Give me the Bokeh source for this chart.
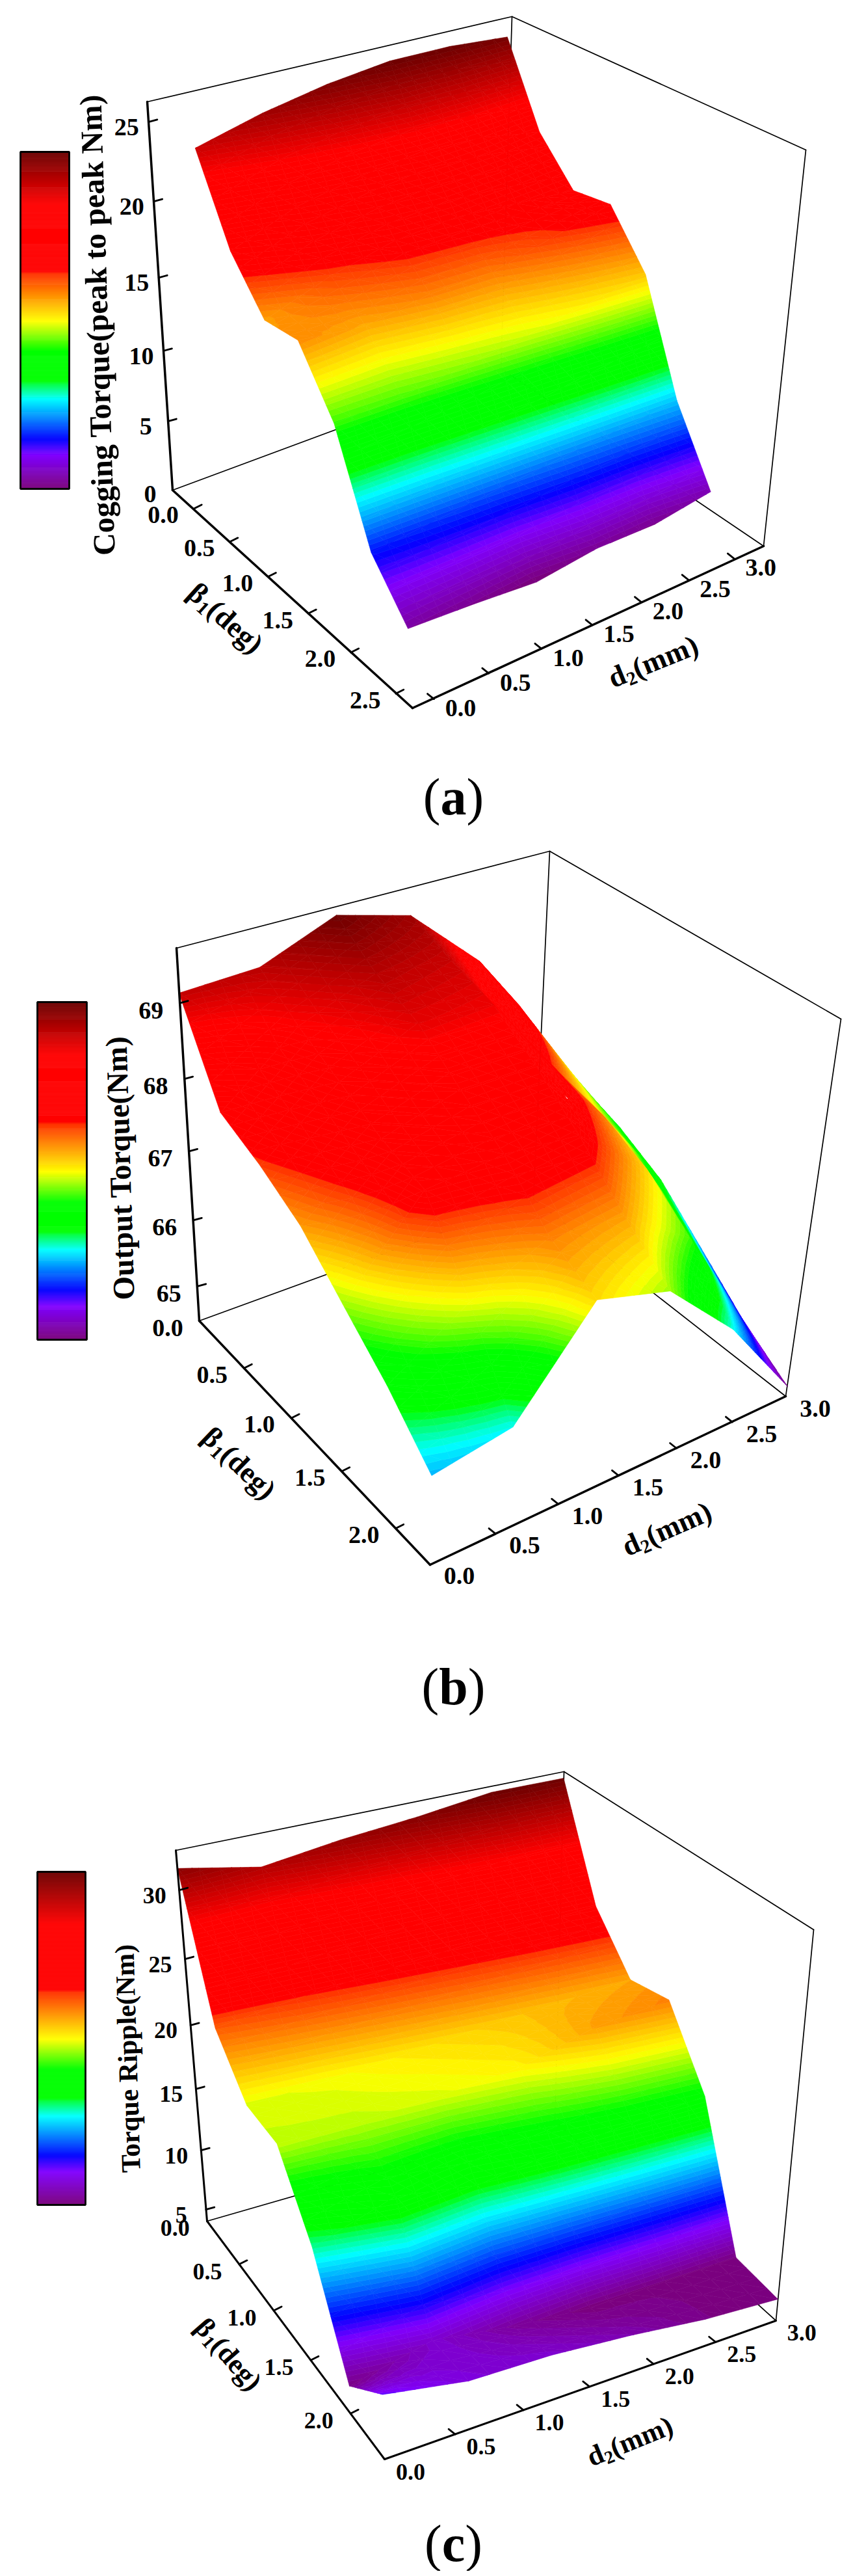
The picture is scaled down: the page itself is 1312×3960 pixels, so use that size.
import math
import numpy as np
from bokeh.plotting import figure
from bokeh.layouts import column
from bokeh.embed import file_html
from bokeh.resources import INLINE
from bokeh.core.properties import value
from bokeh.models import ColumnDataSource

# ---------- data ----------
D2_GRID = [0.0, 0.6, 1.2, 1.8, 2.4, 3.0]

BETA_A = [0.0, 0.4, 0.8, 1.2, 1.6, 2.0, 2.4]
COGGING = [
    [24.0, 25.1, 25.9, 26.4, 26.4, 26.1],
    [18.9, 20.5, 21.3, 21.8, 21.6, 20.9],
    [16.0, 17.5, 18.5, 18.8, 18.5, 18.2],
    [16.3, 15.8, 16.5, 16.6, 17.6, 18.6],
    [12.7, 12.9, 13.4, 14.0, 14.7, 15.3],
    [6.2, 6.6, 7.0, 7.4, 7.8, 8.2],
    [3.2, 2.9, 2.5, 3.0, 2.9, 3.5],
]
BETA_B = [0.0, 0.38, 0.77, 1.15, 1.53, 1.92, 2.3]
OUTPUT = [
    [69.13, 69.18, 69.59, 69.33, 68.44, 67.08],
    [67.98, 68.8, 69.2, 69.1, 68.2, 66.75],
    [67.74, 68.5, 68.95, 68.9, 67.65, 66.52],
    [67.42, 68.2, 68.5, 68.5, 67.5, 66.19],
    [66.89, 68.0, 68.1, 68.0, 67.2, 65.63],
    [66.36, 67.05, 67.5, 67.4, 66.7, 65.05],
    [65.73, 65.91, 67.19, 66.89, 65.92, 64.61],
]
BETA_C = [0.0, 0.4, 0.8, 1.2, 1.6, 2.0, 2.4]
RIPPLE = [
    [31.54, 30.41, 31.16, 31.67, 32.36, 32.31],
    [22.11, 22.8, 23.3, 23.7, 24.1, 24.37],
    [18.76, 19.0, 19.5, 20.0, 20.4, 20.73],
    [18.53, 18.5, 18.8, 19.3, 20.8, 21.38],
    [13.66, 15.6, 14.6, 15.4, 15.9, 16.32],
    [6.19, 7.6, 6.6, 6.0, 6.1, 6.11],
    [9.0, 7.8, 7.6, 7.0, 6.2, 5.77],
]
BETA_TICKS_A = [0.0, 0.5, 1.0, 1.5, 2.0, 2.5]
BETA_TICKS_BC = [0.0, 0.5, 1.0, 1.5, 2.0]
D2_TICKS = [0.0, 0.5, 1.0, 1.5, 2.0, 2.5, 3.0]
Z_TICKS_A = [0, 5, 10, 15, 20, 25]
Z_TICKS_B = [65, 66, 67, 68, 69]
Z_TICKS_C = [5, 10, 15, 20, 25, 30]

# ---------- colour map (fraction of range, colour) ----------
CMAP_T = [0.0, 0.10, 0.148, 0.267, 0.312, 0.32, 0.408, 0.498, 0.64, 0.645, 0.844, 1.0]
CMAP_C = ["#7a0078", "#8000ff", "#0000ff", "#00ffff", "#00ff40", "#00ff00", "#00ff00",
          "#ffff00", "#ff3000", "#ff0000", "#ff0000", "#6b0000"]

def rgb(h):
    return [int(h[i:i + 2], 16) for i in (1, 3, 5)]
_cm = np.array([rgb(c) for c in CMAP_C], float)
BANDS = 100
SUB = 4
BASE_FIX = 0.25   # Bokeh places an "alphabetic" text this fraction of its size below the given y
def colour(t):
    t = min(max(t, 0.0), 1.0)
    r = [np.interp(t, CMAP_T, _cm[:, k]) for k in range(3)]
    return "#%02x%02x%02x" % tuple(int(round(v)) for v in r)

FONT = value("Liberation Serif")
KEYS = {"A": (0, 0, 0), "Ap": (0, 0, 1), "B": (1, 0, 0), "C": (1, 1, 0), "Cp": (1, 1, 1), "D": (0, 1, 0), "Dp": (0, 1, 1)}

def camera(corners):
    rows = []
    for k, (sx, sy) in corners.items():
        X, Y, Z = KEYS[k]
        rows.append([X, Y, Z, 1, 0, 0, 0, 0, -sx * X, -sx * Y, -sx * Z, -sx])
        rows.append([0, 0, 0, 0, X, Y, Z, 1, -sy * X, -sy * Y, -sy * Z, -sy])
    return np.linalg.svd(np.array(rows, float))[2][-1].reshape(3, 4)

def clip(poly, level, keep_above):
    out = []
    n = len(poly)
    for k in range(n):
        a, b = poly[k], poly[(k + 1) % n]
        ina = a[2] >= level if keep_above else a[2] <= level
        inb = b[2] >= level if keep_above else b[2] <= level
        if ina:
            out.append(a)
        if ina != inb:
            s = (level - a[2]) / (b[2] - a[2])
            out.append((a[0] + s * (b[0] - a[0]), a[1] + s * (b[1] - a[1]), level))
    return out

def panel(cfg):
    top, bottom = cfg["yspan"]
    p = figure(width=1304, height=bottom - top, x_range=(0, 1304), y_range=(bottom, top),
               x_axis_type=None, y_axis_type=None,
               output_backend="svg", toolbar_location=None,
               min_border=0, min_border_left=0, min_border_right=0, min_border_top=0, min_border_bottom=0)
    p.grid.visible = False
    p.outline_line_color = None
    M = camera(cfg["corners"])
    b0, b1 = cfg["brange"]; d0, d1 = cfg["drange"]; z0, z1 = cfg["zrange"]

    def proj(b, d, z):
        h = M @ np.array([(b - b0) / (b1 - b0), (d - d0) / (d1 - d0), (z - z0) / (z1 - z0), 1.0])
        return h[0] / h[2], h[1] / h[2]

    c = cfg["corners"]
    thin = [("A", "D"), ("D", "C"), ("D", "Dp"), ("Ap", "Dp"), ("Dp", "Cp"), ("Cp", "C")]
    p.multi_line([[c[a][0], c[b][0]] for a, b in thin], [[c[a][1], c[b][1]] for a, b in thin],
                 line_color="black", line_width=1.7, line_cap="round")

    # surface: bilinear in each cell of the table, drawn back to front in colour bands
    betas, grid = cfg["beta"], np.array(cfg["z"], float)
    clo, chi = cfg["clim"]
    xs, ys, cols = [], [], []
    for i in range(len(betas) - 1):
        for si in range(SUB):
            for j in range(len(D2_GRID) - 2, -1, -1):
                for sj in range(SUB - 1, -1, -1):
                    def pt(u, v):
                        z = ((1 - u) * (1 - v) * grid[i, j] + u * (1 - v) * grid[i + 1, j]
                             + (1 - u) * v * grid[i, j + 1] + u * v * grid[i + 1, j + 1])
                        b = betas[i] + u * (betas[i + 1] - betas[i])
                        d = D2_GRID[j] + v * (D2_GRID[j + 1] - D2_GRID[j])
                        x, y = proj(b, d, z)
                        return (x, y, z)
                    ua, ub = si / SUB, (si + 1) / SUB
                    va, vb = sj / SUB, (sj + 1) / SUB
                    q = [pt(ua, va), pt(ub, va), pt(ub, vb), pt(ua, vb)]
                    for tri in ([q[0], q[1], q[2]], [q[0], q[2], q[3]]):
                        zs = [a[2] for a in tri]
                        mlo = max(0, min(BANDS - 1, int((min(zs) - clo) / (chi - clo) * BANDS)))
                        mhi = max(0, min(BANDS - 1, int((max(zs) - clo) / (chi - clo) * BANDS)))
                        for m in range(mlo, mhi + 1):
                            poly = tri
                            if m > 0:
                                poly = clip(poly, clo + (chi - clo) * m / BANDS, True)
                            if poly and m < BANDS - 1:
                                poly = clip(poly, clo + (chi - clo) * (m + 1) / BANDS, False)
                            if len(poly) >= 3:
                                xs.append([a[0] for a in poly]); ys.append([a[1] for a in poly])
                                cols.append(colour((m + 0.5) / BANDS))
    p.patches("x", "y", source=ColumnDataSource(dict(x=xs, y=ys, c=cols)), fill_color="c", line_color="c", line_width=0.6)

    for a, b in [("A", "Ap"), ("A", "B"), ("B", "C")]:
        p.line([c[a][0], c[b][0]], [c[a][1], c[b][1]], line_color="black", line_width=cfg["thick"], line_cap="round")

    fs = f'{cfg["tick_font"]}px'
    def ticks(vals, fn, start, end, dt, dl, fmt):
        lx, ly, lt = [], [], []
        for v in vals:
            x, y = fn(v)
            if abs(v - start) > 1e-6 and abs(v - end) > 1e-6:
                p.line([x, x + dt[0]], [y, y + dt[1]], line_color="black", line_width=2.8, line_cap="round")
            lx.append(x + dl[0]); ly.append(y + dl[1]); lt.append(fmt % v)
        p.text(lx, ly, text=lt, text_font=FONT, text_font_style="bold", text_font_size=fs,
               text_align="center", text_baseline="middle", text_color="black")
    ticks(cfg["ztick"], lambda v: proj(b0, d0, v), z0, z1, (13, -3.5), cfg["zlab"], "%d")
    ticks(cfg["btick"], lambda v: proj(v, d0, z0), b0, b1, (12, -6), cfg["blab"], "%.1f")
    ticks(cfg["dtick"], lambda v: proj(b1, v, z0), d0, d1, (-10, -8), cfg["dlab"], "%.1f")

    tx, ty = cfg["ztitle_at"]
    p.text([tx], [ty], text=[cfg["ztitle"]], angle=math.pi / 2 + 0.03, text_font=FONT, text_font_style="bold",
           text_font_size=f'{cfg["ztitle_font"]}px', text_align="center", text_baseline="middle", text_color="black")

    def composed(start, deg, parts, size):
        th = math.radians(deg)
        ux, uy = math.cos(th), -math.sin(th)
        vx, vy = math.sin(th), math.cos(th)
        adv = 0.0
        for txt, wid, scale, drop in parts:
            dr = (drop - BASE_FIX * scale) * size
            x = start[0] + ux * adv + vx * dr
            y = start[1] + uy * adv + vy * dr
            p.text([x], [y], text=[txt], angle=th, text_font=FONT, text_font_style="bold",
                   text_font_size=f"{size * scale:.1f}px", text_align="left", text_baseline="alphabetic", text_color="black")
            adv += wid * size
    composed(cfg["beta_at"], cfg["beta_deg"], [("β", 0.56, 1, 0), ("1", 0.33, 0.65, 0.18), ("(deg)", 2.17, 1, 0)], cfg["label_font"])
    composed(cfg["d_at"], cfg["d_deg"], [("d", 0.56, 1, 0), ("2", 0.33, 0.65, 0.18), ("(mm)", 2.33, 1, 0)], cfg["label_font"])

    bx0, bx1, by0, by1 = cfg["bar"]
    n = 256
    es = np.linspace(by1, by0, n + 1)
    p.quad(left=bx0, right=bx1, bottom=es[:-1], top=es[1:], fill_color=[colour((k + 0.5) / n) for k in range(n)],
           line_color=[colour((k + 0.5) / n) for k in range(n)], line_width=0.5)
    p.quad(left=[bx0], right=[bx1], bottom=[by1], top=[by0], fill_color=None, line_color="black", line_width=2.8)

    px, py = cfg["letter_at"]
    sz = 80
    py = py - BASE_FIX * sz
    w0, wl = 0.333 * sz, cfg["letter_w"] * sz
    kw = dict(text_font=FONT, text_font_size=f"{sz}px", text_align="left", text_baseline="alphabetic", text_color="black")
    xl = px - (2 * w0 + wl) / 2
    p.text([xl], [py], text=["("], **kw)
    p.text([xl + w0], [py], text=[cfg["letter"]], text_font_style="bold", **kw)
    p.text([xl + w0 + wl], [py], text=[")"], **kw)
    return p

CFG_A = dict(yspan=(0, 1300), corners={"A": (265, 753), "Ap": (226, 156), "B": (634, 1088), "C": (1174, 839), "Cp": (1239, 230), "D": (770, 566), "Dp": (787, 25)},
             brange=(-0.31, 2.68), drange=(-0.19, 3.33), zrange=(0, 26.2), beta=BETA_A, z=COGGING, clim=(2.5, 26.4), thick=3.5,
             ztick=Z_TICKS_A, btick=BETA_TICKS_A, dtick=D2_TICKS, zlab=(-34, 8), blab=(-47, 10), dlab=(41, 14), tick_font=38,
             ztitle="Cogging Torque(peak to peak Nm)", ztitle_at=(149, 499), ztitle_font=48,
             beta_at=(288, 912), beta_deg=-42, d_at=(941, 1054), d_deg=22, label_font=45,
             bar=(31, 106, 233, 751), letter="a", letter_w=0.5, letter_at=(697, 1244))
CFG_B = dict(yspan=(1300, 2640), corners={"A": (306, 2030), "Ap": (271, 1457), "B": (661, 2405), "C": (1208, 2146), "Cp": (1293, 1566), "D": (820, 1843), "Dp": (845, 1308)},
             brange=(0, 2.3), drange=(0, 3), zrange=(64.45, 69.7), beta=BETA_B, z=OUTPUT, clim=(64.55, 69.6), thick=3.5,
             ztick=Z_TICKS_B, btick=BETA_TICKS_BC, dtick=D2_TICKS, zlab=(-44, 11), blab=(-49, 10), dlab=(45, 18), tick_font=38,
             ztitle="Output Torque(Nm)", ztitle_at=(184, 1795), ztitle_font=47,
             beta_at=(310, 2209), beta_deg=-44, d_at=(963, 2389), d_deg=23.6, label_font=45,
             bar=(57, 133, 1540, 2059), letter="b", letter_w=0.556, letter_at=(697, 2612))
CFG_C = dict(yspan=(2640, 3952), corners={"A": (318, 3414), "Ap": (270, 2844), "B": (591, 3780), "C": (1193, 3567), "Cp": (1251, 2966), "D": (853, 3260), "Dp": (867, 2723)},
             brange=(0, 2.4), drange=(0, 3), zrange=(4, 32.8), beta=BETA_C, z=RIPPLE, clim=(5.9, 32.4), thick=3.0,
             ztick=Z_TICKS_C, btick=BETA_TICKS_BC, dtick=D2_TICKS, zlab=(-38, 8), blab=(-49, 11), dlab=(40, 19), tick_font=36,
             ztitle="Torque Ripple(Nm)", ztitle_at=(196, 3164), ztitle_font=42,
             beta_at=(300, 3576), beta_deg=-49, d_at=(908, 3788), d_deg=22, label_font=43,
             bar=(57, 131, 2877, 3389), letter="c", letter_w=0.444, letter_at=(697, 3929))

page = column(panel(CFG_A), panel(CFG_B), panel(CFG_C), spacing=0)
open("out.html", "w").write(file_html(page, INLINE))
